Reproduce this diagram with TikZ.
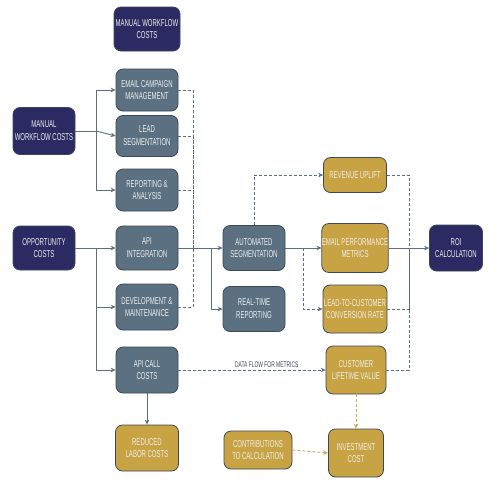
\documentclass[tikz,border=0pt]{standalone}
\usepackage{fontspec}
\setmainfont{Liberation Sans}[FakeStretch=0.6]
\usetikzlibrary{arrows.meta}
\definecolor{navy}{HTML}{2C2A62}
\definecolor{slate}{HTML}{5B7182}
\definecolor{gold}{HTML}{C8A343}
\definecolor{edge}{HTML}{3C4857}
\definecolor{wire}{HTML}{5A6F82}
\definecolor{goldwire}{HTML}{C9AA55}
\definecolor{boxtext}{HTML}{EEEEEE}
\tikzset{
  box/.style={draw=edge, line width=0.8pt, rounded corners=7pt, align=center,
    inner sep=0pt, text=boxtext, font=\fontsize{10}{12.8}\selectfont},
  navybox/.style={box, fill=navy},
  slatebox/.style={box, fill=slate},
  goldbox/.style={box, fill=gold},
  wh/.style={minimum width=#1},
  ht/.style={minimum height=#1},
  ln/.style={draw=wire, line width=0.9pt},
  arr/.style={ln, -{Stealth[length=5pt,width=4.5pt]}},
  dln/.style={ln, dash pattern=on 3pt off 2pt},
  darr/.style={dln, -{Stealth[length=5pt,width=4.5pt]}},
  garr/.style={draw=goldwire, line width=0.9pt, dash pattern=on 3pt off 2pt, -{Stealth[length=5pt,width=4.5pt]}},
  lbl/.style={text=edge, font=\fontsize{8.2}{9}\selectfont, inner sep=1.5pt}
}
\begin{document}
\begin{tikzpicture}[x=1pt,y=-1pt]
\fill[white] (0,0) rectangle (496,496);
\useasboundingbox (0,0) rectangle (496,496);
% column 1
\node[navybox, wh=66pt, ht=44pt] (mwctop) at (147,29) {MANUAL WORKFLOW\\COSTS};
\node[navybox, wh=62pt, ht=47pt] (mwc) at (44,131) {MANUAL\\WORKFLOW COSTS};
\node[navybox, wh=62pt, ht=44pt] (opp) at (44,248) {OPPORTUNITY\\COSTS};
% column 2
\node[slatebox, wh=62pt, ht=42pt] (email) at (147,90) {EMAIL CAMPAIGN\\MANAGEMENT};
\node[slatebox, wh=62pt, ht=41pt] (lead) at (147,136) {LEAD\\SEGMENTATION};
\node[slatebox, wh=62pt, ht=42pt] (report) at (147,190) {REPORTING \&\\ANALYSIS};
\node[slatebox, wh=62pt, ht=44pt] (api) at (147,248) {API\\INTEGRATION};
\node[slatebox, wh=62pt, ht=46pt] (dev) at (147,307) {DEVELOPMENT \&\\MAINTENANCE};
\node[slatebox, wh=62pt, ht=46pt] (apicall) at (147,370) {API CALL\\COSTS};
\node[goldbox, wh=63pt, ht=46pt] (reduced) at (147,448) {REDUCED\\LABOR COSTS};
% column 3
\node[slatebox, wh=62pt, ht=45pt] (auto) at (254,248) {AUTOMATED\\SEGMENTATION};
\node[slatebox, wh=62pt, ht=45pt] (rtr) at (254,309) {REAL-TIME\\REPORTING};
\node[goldbox, wh=68pt, ht=38pt] (contrib) at (258,450) {CONTRIBUTIONS\\TO CALCULATION};
% column 4
\node[goldbox, wh=63pt, ht=35pt] (rev) at (355,175) {REVENUE UPLIFT};
\node[goldbox, wh=64pt, ht=49pt] (emp) at (355,248) {EMAIL PERFORMANCE\\METRICS};
\node[goldbox, wh=64pt, ht=48pt] (ltc) at (355,309) {LEAD-TO-CUSTOMER\\CONVERSION RATE};
\node[goldbox, wh=60pt, ht=48pt] (clv) at (356,370) {CUSTOMER\\LIFETIME VALUE};
\node[goldbox, wh=55pt, ht=48pt] (inv) at (356,453) {INVESTMENT\\COST};
% column 5
\node[navybox, wh=53pt, ht=46pt] (roi) at (456,248) {ROI\\CALCULATION};
% junctions
\coordinate (j1) at (96,131);
\coordinate (j2) at (96,248);
\coordinate (j3) at (211,248);
\coordinate (j4) at (303,248);
\coordinate (d1) at (193,248);
\coordinate (d2) at (409,248);
% left fan-outs
\draw[ln] (mwc.east) -- (j1);
\draw[arr] (j1) |- (email.west);
\draw[arr] (j1) -- (lead.west);
\draw[arr] (j1) |- (report.west);
\draw[arr] (opp.east) -- (api.west);
\draw[arr] (j2) |- (dev.west);
\draw[arr] (j2) |- (apicall.west);
% dashed merge into automation line
\draw[dln] (email.east) -| (d1);
\draw[dln] (lead.east) -| (d1);
\draw[dln] (report.east) -| (d1);
\draw[dln] (dev.east) -| (d1);
% middle
\draw[arr] (api.east) -- (auto.west);
\draw[arr] (j3) |- (rtr.west);
\draw[arr] (apicall.south) -- (reduced.north);
\draw[darr] (apicall.east) -- node[lbl, above, pos=0.6] {DATA FLOW FOR METRICS} (clv.west);
\draw[arr] (auto.east) -- (emp.west);
\draw[darr] (auto.north) |- (rev.west);
\draw[darr] (j4) |- (ltc.west);
% right merge
\draw[arr] (emp.east) -- (roi.west);
\draw[dln] (rev.east) -| (d2);
\draw[dln] (ltc.east) -| (d2);
\draw[dln] (clv.east) -| (d2);
% gold flows
\draw[garr] (clv.south) -- (inv.north);
\draw[garr] (contrib.east) -- (inv.west);
\end{tikzpicture}
\end{document}
